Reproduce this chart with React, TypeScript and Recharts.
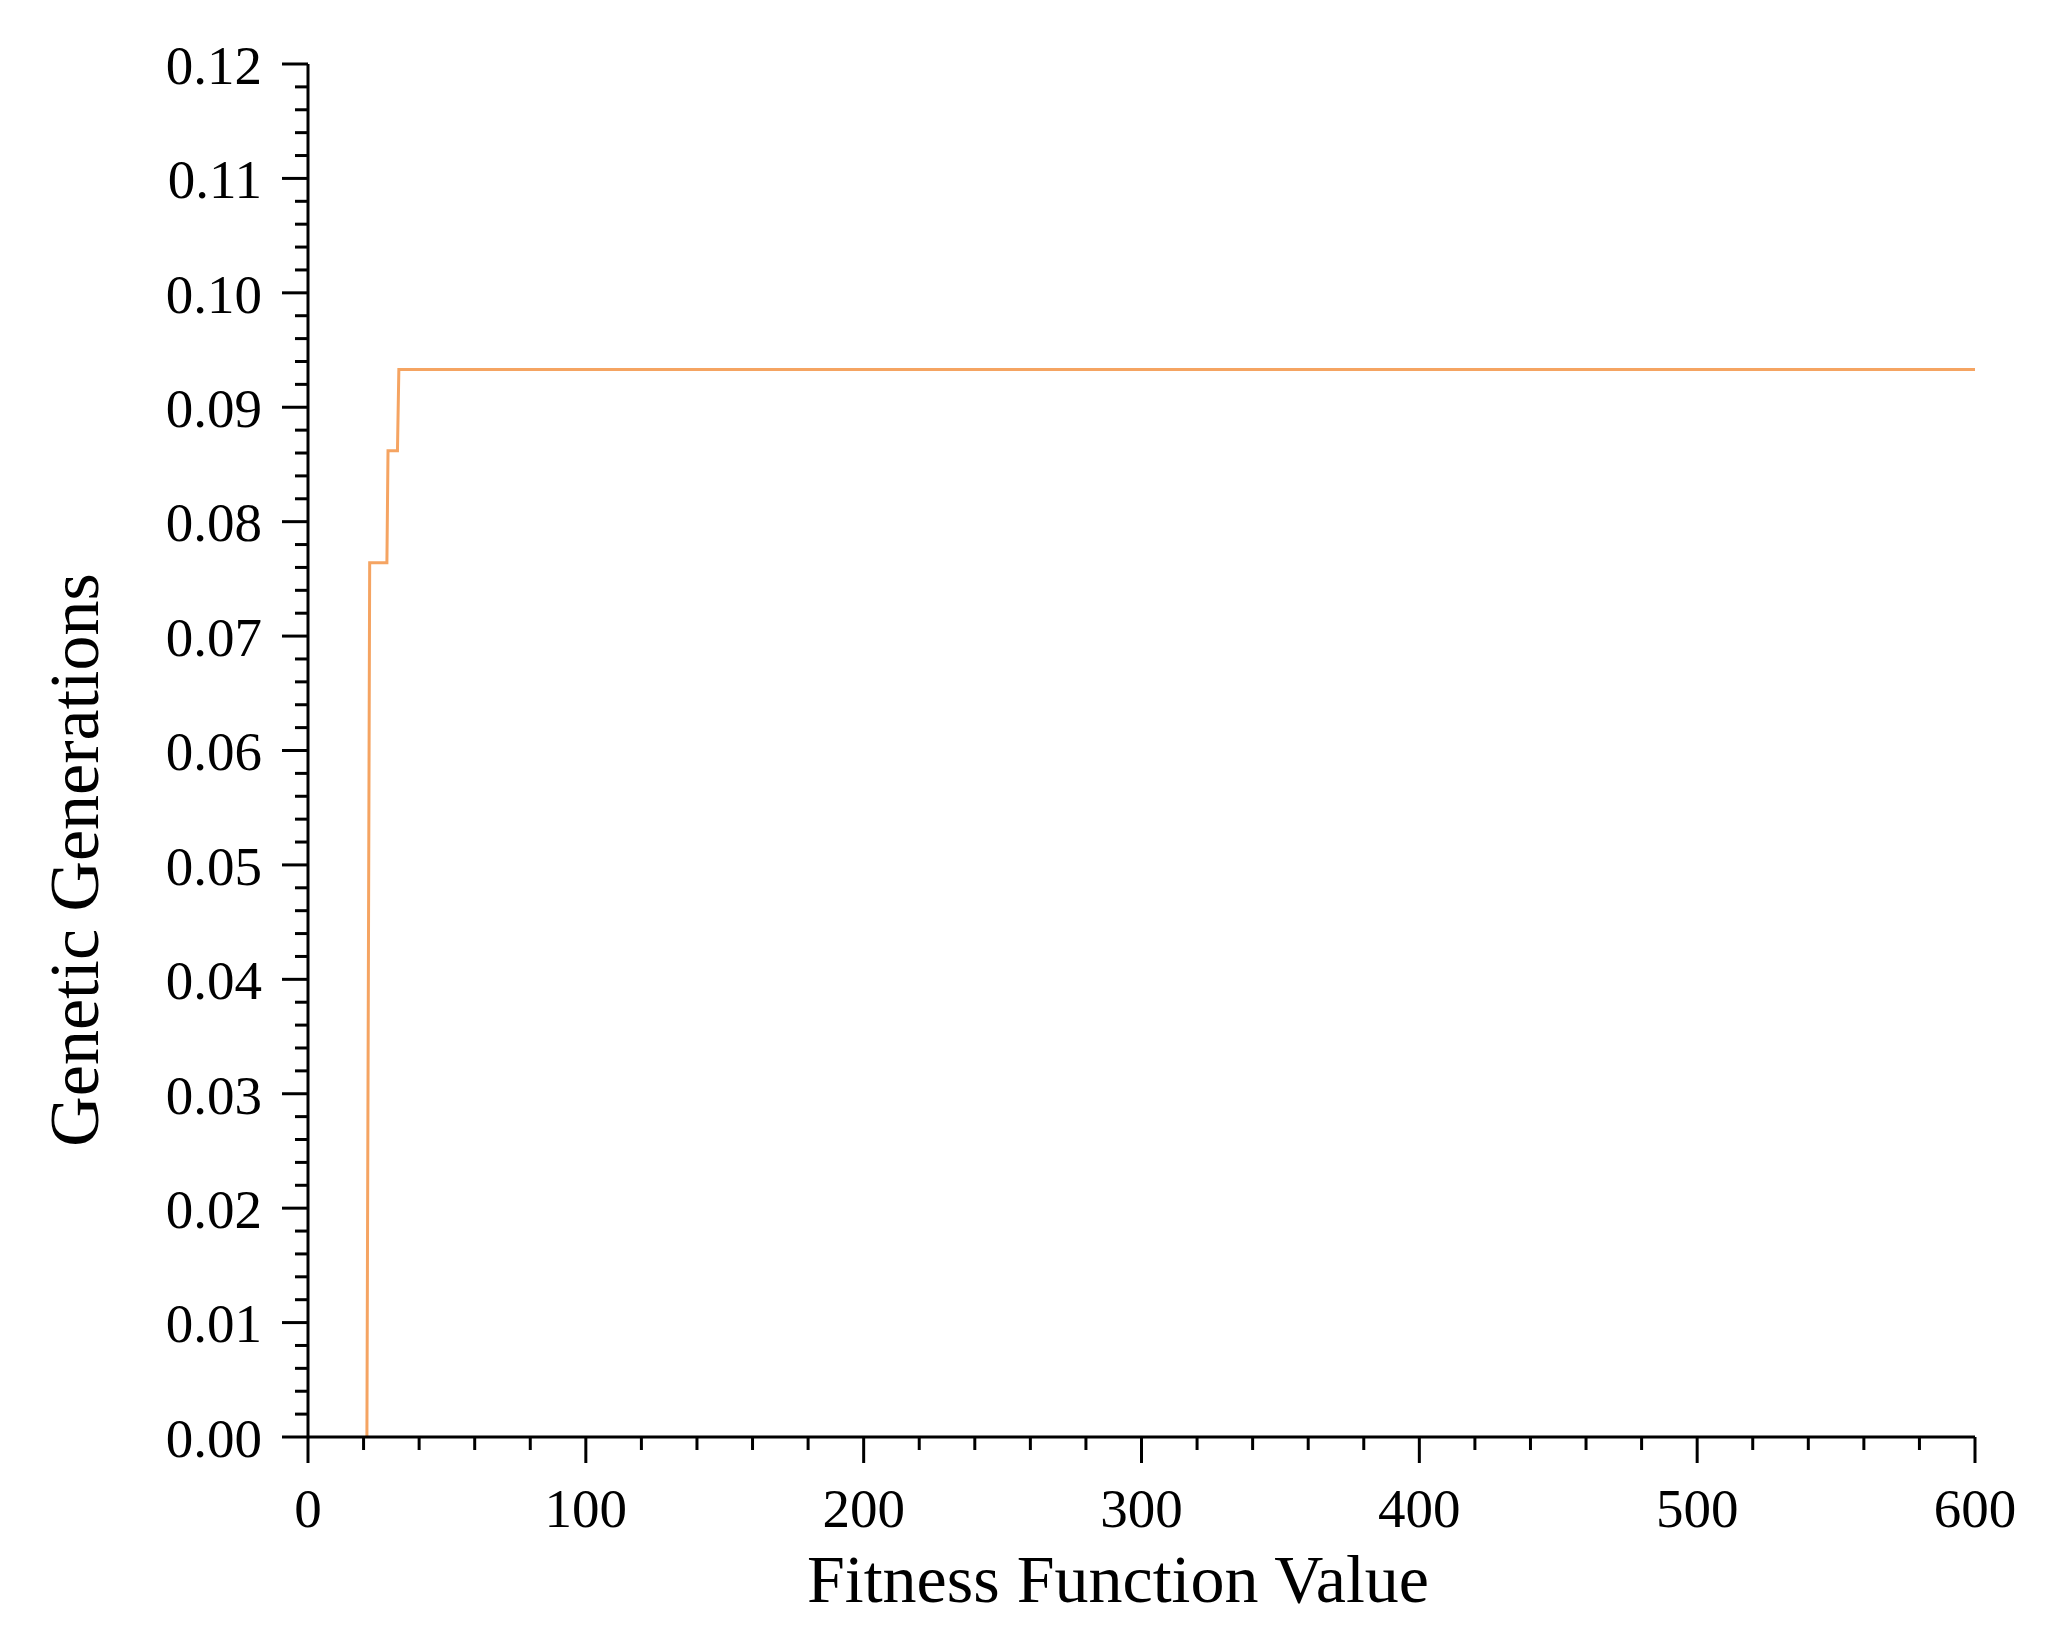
import { LineChart, Line, XAxis, YAxis } from 'recharts'

// step curve of the GA run
const fitnessValues = [21.2, 22.2, 28.4, 28.8, 32.2, 32.7, 600]
const generations = [0, 0.0764, 0.0764, 0.0862, 0.0862, 0.0933, 0.0933]

const xMajorTicks = [0, 100, 200, 300, 400, 500, 600]
const yMajorTicks = [0, 0.01, 0.02, 0.03, 0.04, 0.05, 0.06, 0.07, 0.08, 0.09, 0.1, 0.11, 0.12]
const X_MINOR_PER_MAJOR = 5
const Y_MINOR_PER_MAJOR = 5

const xTitle = 'Fitness Function Value'
const yTitle = 'Genetic Generations'

const data = fitnessValues.map((fit, i) => ({ fit, gen: generations[i] }))

const withMinor = (majors: number[], parts: number) => {
  const out: number[] = []
  majors.forEach((m, i) => {
    out.push(m)
    if (i < majors.length - 1) {
      const step = (majors[i + 1] - m) / parts
      for (let k = 1; k < parts; k++) out.push(+(m + step * k).toFixed(6))
    }
  })
  return out
}

const xTicks = withMinor(xMajorTicks, X_MINOR_PER_MAJOR)
const yTicks = withMinor(yMajorTicks, Y_MINOR_PER_MAJOR)

const W = 2030
const H = 1620
const PLOT_LEFT = 300
const PLOT_TOP = 56
const PLOT_RIGHT = 1967
const PLOT_BOTTOM = 1429
const MAJOR_LEN = 26
const MINOR_LEN = 13
const FONT = '"Liberation Serif", "Times New Roman", serif'
const TICK_FONT = 55

const isMajor = (v: number, list: number[]) => list.some((m) => Math.abs(m - v) < 1e-9)

function XTick(props: any) {
  const { x, payload } = props
  const major = isMajor(payload.value, xMajorTicks)
  return (
    <g>
      <line
        x1={x}
        x2={x}
        y1={PLOT_BOTTOM}
        y2={PLOT_BOTTOM + (major ? MAJOR_LEN : MINOR_LEN)}
        stroke="#000"
        strokeWidth={3}
      />
      {major && (
        <text x={x} y={PLOT_BOTTOM + 90} textAnchor="middle" fontFamily={FONT} fontSize={TICK_FONT} fill="#000">
          {payload.value}
        </text>
      )}
    </g>
  )
}

function YTick(props: any) {
  const { y, payload } = props
  const major = isMajor(payload.value, yMajorTicks)
  return (
    <g>
      <line
        x1={PLOT_LEFT - (major ? MAJOR_LEN : MINOR_LEN)}
        x2={PLOT_LEFT}
        y1={y}
        y2={y}
        stroke="#000"
        strokeWidth={3}
      />
      {major && (
        <text
          x={PLOT_LEFT - 46}
          y={y}
          dy="0.36em"
          textAnchor="end"
          fontFamily={FONT}
          fontSize={TICK_FONT}
          fill="#000"
        >
          {payload.value.toFixed(2)}
        </text>
      )}
    </g>
  )
}

function XTitle() {
  return (
    <text x={1110} y={1594} textAnchor="middle" fontFamily={FONT} fontSize={68} fill="#000">
      {xTitle}
    </text>
  )
}

function YTitle() {
  return (
    <text
      x={65}
      y={852}
      dy="0.35em"
      textAnchor="middle"
      transform="rotate(-90, 65, 852)"
      fontFamily={FONT}
      fontSize={70}
      fill="#000"
    >
      {yTitle}
    </text>
  )
}

export default function App() {
  return (
    <div style={{ width: W, height: H, background: '#fff' }}>
      <LineChart
        width={W}
        height={H}
        data={data}
        margin={{ top: PLOT_TOP, right: W - PLOT_RIGHT, bottom: 0, left: 0 }}
      >
        <XAxis
          dataKey="fit"
          type="number"
          domain={[0, 600]}
          ticks={xTicks}
          interval={0}
          height={H - PLOT_BOTTOM}
          tickLine={false}
          axisLine={{ stroke: '#000', strokeWidth: 3 }}
          tick={(p: any) => <XTick {...p} />}
          label={<XTitle />}
        />
        <YAxis
          type="number"
          domain={[0, 0.12]}
          ticks={yTicks}
          interval={0}
          width={PLOT_LEFT}
          tickLine={false}
          axisLine={{ stroke: '#000', strokeWidth: 3 }}
          tick={(p: any) => <YTick {...p} />}
          label={<YTitle />}
        />
        <Line
          dataKey="gen"
          type="linear"
          stroke="#F5A462"
          strokeWidth={3}
          dot={false}
          activeDot={false}
          isAnimationActive={false}
        />
      </LineChart>
    </div>
  )
}
